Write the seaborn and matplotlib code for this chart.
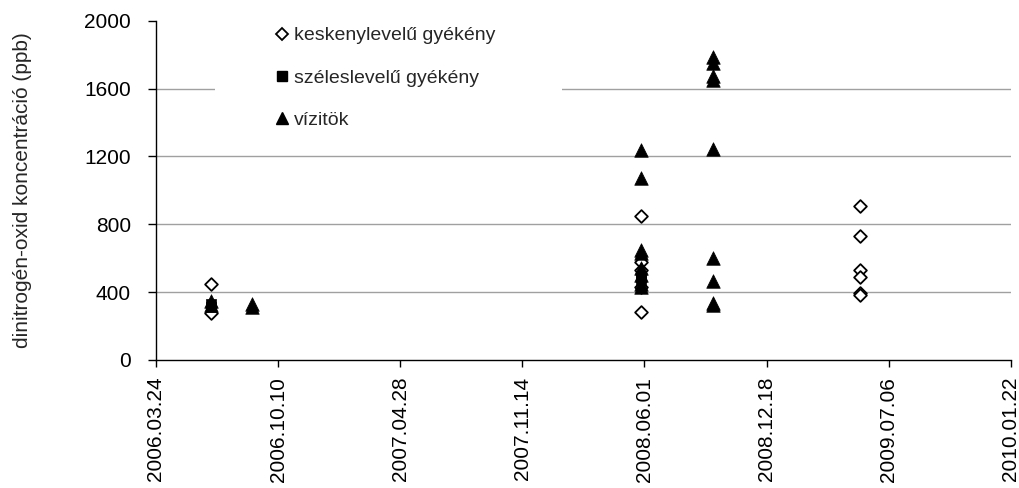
import datetime as dt
import matplotlib
matplotlib.use("Agg")
import matplotlib.pyplot as plt
import matplotlib.dates as mdates
from matplotlib.lines import Line2D
from matplotlib.patches import Rectangle
import pandas as pd
import seaborn as sns

# Sampling campaigns
campaign_dates = ["2006-06-22", "2006-08-28", "2008-05-26", "2008-09-22", "2009-05-20"]

# N2O concentration (ppb) per plant type, keyed by campaign index
keskeny_idx = [0, 0, 2, 2, 2, 2, 2, 4, 4, 4, 4, 4, 4]
keskeny_val = [450, 275, 850, 575, 530, 430, 285, 910, 730, 530, 490, 395, 385]

szeles_idx = [0, 0, 2, 2]
szeles_val = [330, 315, 490, 470]

vizitok_idx = [0, 0, 1, 1, 2, 2, 2, 2, 2, 2, 2, 2, 3, 3, 3, 3, 3, 3, 3, 3, 3]
vizitok_val = [345, 325, 330, 315, 1240, 1073, 650, 630, 540, 500, 450, 430,
               1785, 1750, 1675, 1650, 1245, 600, 465, 335, 325]

series_names = ["keskenylevelű gyékény", "széleslevelű gyékény", "vízitök"]

x_ticks = ["2006.03.24", "2006.10.10", "2007.04.28", "2007.11.14",
           "2008.06.01", "2008.12.18", "2009.07.06", "2010.01.22"]
y_ticks = [0, 400, 800, 1200, 1600, 2000]

FS = 15
LEG_FS = 14


def frame(idx, vals):
    return pd.DataFrame({
        "date": pd.to_datetime([campaign_dates[i] for i in idx]),
        "value": vals,
    })


sns.set_style("ticks")
plt.rcParams["font.family"] = ["Liberation Sans", "DejaVu Sans"]
plt.rcParams["font.size"] = FS

fig = plt.figure(figsize=(10.19, 4.88), dpi=100)
ax = fig.add_axes([0.153, 0.2623, 0.839, 0.6953])

styles = [
    dict(marker="D", s=42, facecolor="white", edgecolor="black", linewidth=1.3),
    dict(marker="s", s=60, facecolor="black", edgecolor="black", linewidth=0.5),
    dict(marker="^", s=95, facecolor="black", edgecolor="black", linewidth=0.5),
]
data = [(keskeny_idx, keskeny_val), (szeles_idx, szeles_val), (vizitok_idx, vizitok_val)]
for (idx, vals), st in zip(data, styles):
    df = frame(idx, vals)
    sns.scatterplot(data=df, x="date", y="value", ax=ax, zorder=3, legend=False, **st)

# Axes limits and ticks
tick_dates = [dt.datetime.strptime(t, "%Y.%m.%d") for t in x_ticks]
ax.set_xlim(tick_dates[0], tick_dates[-1])
ax.set_xticks(tick_dates)
ax.xaxis.set_major_formatter(mdates.DateFormatter("%Y.%m.%d"))
ax.set_ylim(y_ticks[0], y_ticks[-1])
ax.set_yticks(y_ticks)
ax.tick_params(axis="x", rotation=90, direction="out", length=5, width=1,
               pad=7, labelsize=FS, colors="black")
ax.tick_params(axis="y", direction="out", length=6, width=1,
               pad=12, labelsize=FS, colors="black")
for lab in ax.get_xticklabels():
    lab.set_verticalalignment("top")

ax.set_xlabel("")
ax.set_ylabel("dinitrogén-oxid koncentráció (ppb)", fontsize=FS)
ax.yaxis.set_label_coords(-0.145, 0.5)

# Horizontal gridlines
ax.yaxis.grid(True, color="#a0a0a0", linewidth=1)
ax.xaxis.grid(False)
ax.set_axisbelow(True)
gl = ax.get_ygridlines()
gl[0].set_visible(False)
gl[-1].set_visible(False)

sns.despine(ax=ax, top=True, right=True)
for side in ("left", "bottom"):
    ax.spines[side].set_color("black")
    ax.spines[side].set_linewidth(1)

# White legend area over the gridlines
ax.add_patch(Rectangle((0.069, 0.66), 0.406, 0.34, transform=ax.transAxes,
                       facecolor="white", edgecolor="none", zorder=1.8))

handles = [
    Line2D([], [], linestyle="none", marker="D", markersize=6.5,
           markerfacecolor="white", markeredgecolor="black", markeredgewidth=1.3),
    Line2D([], [], linestyle="none", marker="s", markersize=7.5,
           markerfacecolor="black", markeredgecolor="black"),
    Line2D([], [], linestyle="none", marker="^", markersize=8.5,
           markerfacecolor="black", markeredgecolor="black"),
]
fig.legend(handles, series_names, loc="upper left",
           bbox_to_anchor=(0.270, 0.945), bbox_transform=fig.transFigure,
           frameon=False, handlelength=0.75, handletextpad=0.2,
           borderpad=0, borderaxespad=0, labelspacing=1.27, fontsize=LEG_FS)

fig.savefig("out.png", dpi=100)
